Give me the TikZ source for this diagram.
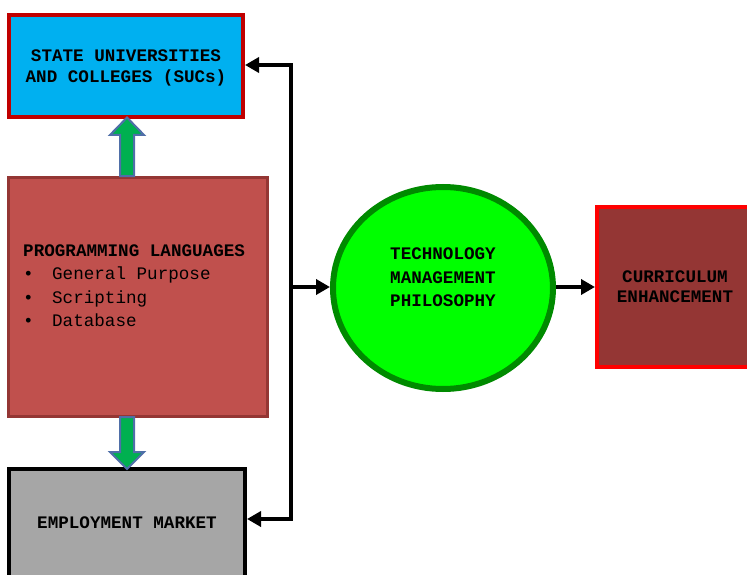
\documentclass[tikz,border=0pt]{standalone}
\usepackage{fontspec}
\setmonofont{Liberation Mono}
\usetikzlibrary{arrows.meta,shapes.geometric}
\definecolor{sucfill}{HTML}{00B0F0}
\definecolor{sucedge}{HTML}{C00000}
\definecolor{progfill}{HTML}{C0504D}
\definecolor{progedge}{HTML}{943634}
\definecolor{empfill}{HTML}{A6A6A6}
\definecolor{tmpfill}{HTML}{00FF00}
\definecolor{tmpedge}{HTML}{008A00}
\definecolor{curfill}{HTML}{943634}
\definecolor{curedge}{HTML}{FF0000}
\definecolor{barfill}{HTML}{00B050}
\definecolor{baredge}{HTML}{4F6FA8}
\tikzset{
  box/.style={rectangle, draw, line width=4pt, inner sep=0pt, align=center},
  txt/.style={font=\ttfamily\bfseries\fontsize{17.6}{21}\selectfont},
  txtwide/.style={font=\ttfamily\bfseries\fontsize{17.6}{23.5}\selectfont},
  txtcur/.style={font=\ttfamily\bfseries\fontsize{17.6}{20}\selectfont},
  conn/.style={line width=3.5pt, -{Triangle[length=14pt,width=15pt]}},
  bararrow/.style={fill=barfill, draw=baredge, line width=2pt, line join=miter},
}
\begin{document}
\begin{tikzpicture}[x=1pt,y=-1pt]
\useasboundingbox (0,0) rectangle (747,575);
\clip (0,0) rectangle (747,575);
% boxes
\node[box, fill=sucfill, draw=sucedge, minimum width=234pt, minimum height=102pt] (suc) at (126,66) {};
\node[txt, align=center, inner sep=0pt] (suclabel) at (126,67.5) {STATE UNIVERSITIES\\AND COLLEGES (SUCs)};
\node[box, fill=progfill, draw=progedge, line width=3pt, minimum width=259pt, minimum height=239pt] (prog) at (137.5,296.5) {};
\node[anchor=west, align=left, inner sep=0pt, font=\ttfamily\fontsize{17.6}{23.5}\selectfont] (proglabel) at (23,285.5)
  {\textbf{PROGRAMMING LANGUAGES}\\\makebox[29pt][l]{\textbullet}General Purpose\\\makebox[29pt][l]{\textbullet}Scripting\\\makebox[29pt][l]{\textbullet}Database};
\node[box, fill=empfill, draw=black, minimum width=236pt, minimum height=108pt, txt] (emp) at (127,523) {EMPLOYMENT MARKET};
\node[ellipse, draw=tmpedge, fill=tmpfill, line width=6pt, minimum width=220pt, minimum height=202pt, inner sep=0pt] (tmp) at (443,288) {};
\node[txtwide, align=center, inner sep=0pt] (tmplabel) at (443,277.5) {TECHNOLOGY\\MANAGEMENT\\PHILOSOPHY};
\node[box, fill=curfill, draw=curedge, minimum width=156pt, minimum height=160pt, txtcur] (cur) at (675,287) {CURRICULUM\\ENHANCEMENT};
% block arrows
\draw[bararrow] (120,176) -- (120,135) -- (110,135) -- (127,117.5) -- (144,135) -- (134,135) -- (134,176) -- cycle;
\draw[bararrow] (120,417) -- (120,452) -- (110,452) -- (127,469) -- (144,452) -- (134,452) -- (134,417) -- cycle;
% spine
\coordinate (spinetop) at (291,65);
\coordinate (spinemid) at (291,287);
\coordinate (spinebot) at (291,519);
\draw[line width=3.5pt, line cap=rect] (spinetop) -- (spinebot);
\draw[conn] (spinetop) -- (suc.east |- spinetop);
\draw[conn] (spinebot) -- (emp.east |- spinebot);
\draw[conn] (spinemid) -- (tmp.west |- spinemid);
\draw[conn] (tmp.east |- spinemid) -- (cur.west |- spinemid);
\end{tikzpicture}
\end{document}
